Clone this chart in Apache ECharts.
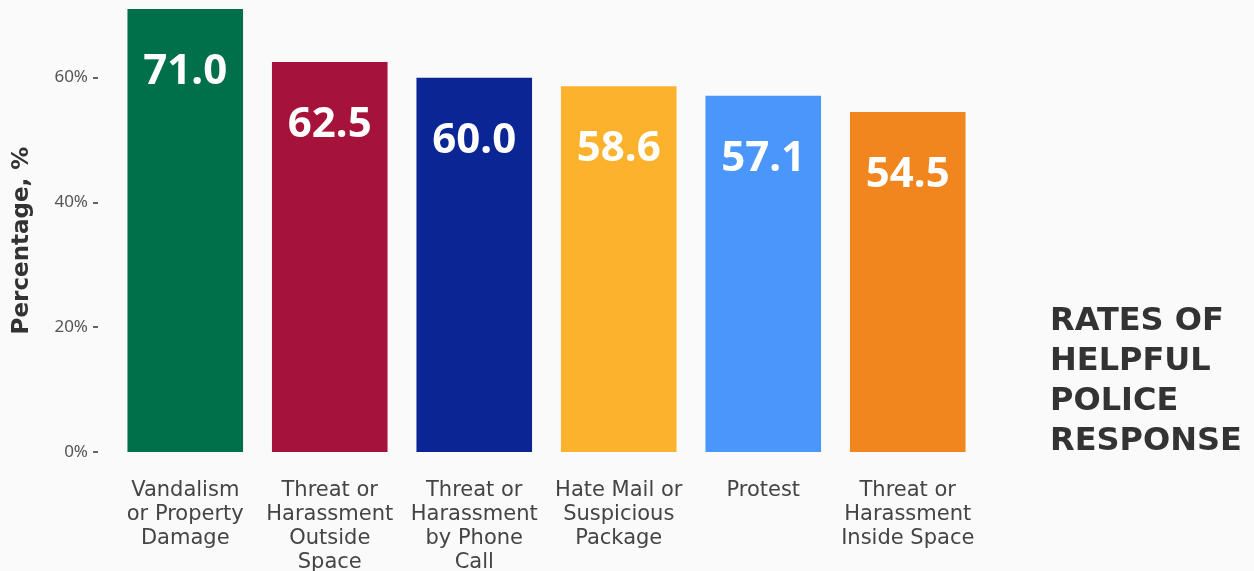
<!DOCTYPE html>
<html><head><meta charset="utf-8">
<script src="https://cdn.jsdelivr.net/npm/echarts@6/dist/echarts.min.js"></script>
<style>html,body{margin:0;padding:0;background:#fafafa}#c{width:1254px;height:571px}</style>
</head><body><div id="c"></div>
<script>
const categories = ["Vandalism\nor Property\nDamage","Threat or\nHarassment\nOutside\nSpace","Threat or\nHarassment\nby Phone\nCall","Hate Mail or\nSuspicious\nPackage","Protest","Threat or\nHarassment\nInside Space"];
const values = [71.0, 62.5, 60.0, 58.6, 57.1, 54.5];
const colors = ["#00704A","#A6133A","#0A2594","#FDB22E","#4A96FB","#F2861E"];
const yTicks = [0, 20, 40, 60];
const titleText = "RATES OF\nHELPFUL\nPOLICE\nRESPONSE";
const yName = "Percentage, %";
const FONT = "'Noto Sans', sans-serif";
const WIDE = "'DejaVu Sans', sans-serif";

const chart = echarts.init(document.getElementById('c'));
chart.setOption({
  backgroundColor: '#fafafa',
  animation: false,
  title: {
    text: titleText, left: 1045, top: 297,
    textStyle: { fontFamily: WIDE, fontWeight: 'bold', fontSize: 32, lineHeight: 40, color: '#333' }
  },
  grid: { left: 113, right: 274, top: 9, bottom: 119, outerBoundsMode: 'none', containLabel: false },
  xAxis: {
    type: 'category', data: categories,
    axisLine: { show: false }, axisTick: { show: false },
    axisLabel: { interval: 0, margin: 27, fontFamily: WIDE, fontSize: 21, lineHeight: 24, color: '#444', verticalAlign: 'top' }
  },
  yAxis: {
    type: 'value', min: 0, max: 71, interval: 20, offset: 15,
    name: yName, nameLocation: 'middle', nameGap: 64,
    nameTextStyle: { fontFamily: WIDE, fontWeight: 'bold', fontSize: 23, color: '#333', padding: [0, 20, 0, 0] },
    splitLine: { show: false }, axisLine: { show: false },
    axisTick: { show: true, length: 5, lineStyle: { color: '#333', width: 1.5 } },
    axisLabel: {
      margin: 10, fontFamily: FONT, fontSize: 17, color: '#555', showMaxLabel: false,
      formatter: v => yTicks.includes(v) ? v + '%' : ''
    }
  },
  series: [{
    type: 'bar', barWidth: '80%',
    data: values.map((v, i) => ({ value: v, itemStyle: { color: colors[i] } })),
    label: {
      show: true, position: 'insideTop', distance: 42,
      formatter: p => p.value.toFixed(1),
      fontFamily: FONT, fontWeight: 'bold', fontSize: 42, color: '#fff'
    }
  }]
});
</script></body></html>
